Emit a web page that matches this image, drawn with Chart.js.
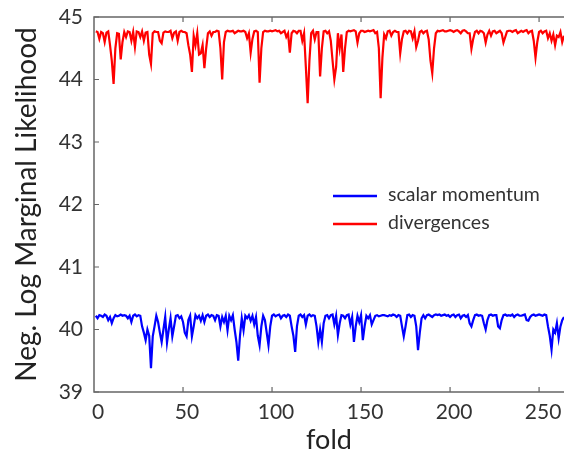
<!DOCTYPE html>
<html>
<head>
<meta charset="utf-8">
<script src="https://cdn.jsdelivr.net/npm/chart.js@4/dist/chart.umd.min.js"></script>
<style>
  html, body { margin: 0; padding: 0; background: #fff; overflow: hidden; }
</style>
</head>
<body>
<canvas id="foldChart" width="564" height="456"></canvas>
<script>
// values, fold 1..264
var divergences = [
  44.77, 44.76, 44.65, 44.76, 44.74, 44.60, 44.75, 44.77, 44.55, 44.30,
  43.93, 44.50, 44.74, 44.73, 44.32, 44.60, 44.76, 44.68, 44.77, 44.76,
  44.62, 44.76, 44.52, 44.77, 44.76, 44.68, 44.77, 44.62, 44.75, 44.76,
  44.40, 44.25, 44.74, 44.77, 44.76, 44.76, 44.62, 44.58, 44.75, 44.77,
  44.76, 44.76, 44.78, 44.66, 44.75, 44.77, 44.62, 44.76, 44.78, 44.76,
  44.76, 44.74, 44.55, 44.40, 44.12, 44.70, 44.55, 44.74, 44.40, 44.42,
  44.55, 44.18, 44.50, 44.74, 44.77, 44.70, 44.76, 44.76, 44.78, 44.77,
  44.50, 44.00, 44.60, 44.76, 44.78, 44.77, 44.77, 44.78, 44.74, 44.76,
  44.78, 44.77, 44.77, 44.78, 44.76, 44.66, 44.74, 44.43, 44.65, 44.77,
  44.78, 44.76, 43.95, 44.50, 44.76, 44.78, 44.77, 44.77, 44.78, 44.77,
  44.78, 44.79, 44.77, 44.78, 44.74, 44.76, 44.78, 44.68, 44.74, 44.43,
  44.74, 44.78, 44.77, 44.74, 44.78, 44.78, 44.62, 44.74, 44.20, 43.62,
  44.30, 44.74, 44.78, 44.64, 44.76, 44.76, 44.05, 44.50, 44.77, 44.78,
  44.74, 44.77, 44.62, 44.30, 44.00, 44.20, 44.74, 44.50, 44.72, 44.12,
  44.50, 44.76, 44.78, 44.77, 44.78, 44.79, 44.77, 44.59, 44.74, 44.78,
  44.78, 44.76, 44.77, 44.78, 44.77, 44.78, 44.79, 44.74, 44.76, 44.50,
  43.70, 44.35, 44.72, 44.66, 44.77, 44.78, 44.70, 44.76, 44.78, 44.76,
  44.76, 44.42, 44.65, 44.77, 44.78, 44.74, 44.78, 44.77, 44.66, 44.77,
  44.52, 44.62, 44.76, 44.78, 44.74, 44.77, 44.78, 44.64, 44.30, 44.10,
  44.50, 44.74, 44.78, 44.77, 44.78, 44.79, 44.77, 44.77, 44.78, 44.79,
  44.78, 44.76, 44.78, 44.79, 44.77, 44.74, 44.78, 44.79, 44.77, 44.74,
  44.74, 44.49, 44.65, 44.76, 44.78, 44.74, 44.78, 44.77, 44.74, 44.59,
  44.72, 44.78, 44.70, 44.77, 44.78, 44.74, 44.76, 44.78, 44.74, 44.59,
  44.68, 44.77, 44.78, 44.78, 44.76, 44.78, 44.79, 44.74, 44.76, 44.78,
  44.76, 44.78, 44.79, 44.74, 44.77, 44.78, 44.62, 44.35, 44.60, 44.76,
  44.78, 44.74, 44.77, 44.78, 44.66, 44.74, 44.62, 44.72, 44.55, 44.70,
  44.68, 44.76, 44.60, 44.70
];

var scalarMomentum = [
  40.22, 40.18, 40.23, 40.22, 40.20, 40.24, 40.22, 40.15, 40.20, 40.10,
  40.18, 40.23, 40.21, 40.22, 40.24, 40.22, 40.23, 40.22, 40.18, 40.22,
  40.12, 40.22, 40.24, 40.21, 40.23, 40.22, 40.05, 39.95, 39.83, 40.00,
  39.90, 39.38, 39.89, 40.05, 40.22, 40.12, 39.95, 39.80, 40.00, 40.20,
  39.79, 40.00, 40.18, 39.89, 40.05, 40.22, 40.23, 40.18, 40.21, 40.12,
  39.95, 39.89, 40.15, 40.22, 39.89, 40.05, 40.23, 40.18, 40.22, 40.14,
  40.23, 40.12, 40.22, 40.24, 40.20, 40.23, 40.22, 40.15, 40.23, 40.22,
  40.05, 40.20, 40.12, 40.22, 39.99, 40.22, 40.15, 40.23, 40.00, 39.80,
  39.50, 39.90, 40.18, 39.99, 40.22, 40.18, 40.23, 40.14, 40.22, 40.08,
  40.20, 39.90, 39.75, 40.05, 40.22, 40.15, 39.95, 39.75, 40.05, 40.22,
  40.24, 40.21, 40.23, 40.24, 40.18, 40.22, 40.23, 40.20, 40.24, 40.22,
  40.05, 39.90, 39.64, 40.05, 40.22, 40.24, 40.20, 40.23, 40.08, 40.22,
  40.24, 40.21, 40.23, 40.22, 40.05, 39.80, 40.00, 39.80, 40.10, 40.22,
  40.23, 40.18, 40.23, 40.24, 40.08, 40.22, 39.91, 40.10, 40.23, 40.22,
  40.18, 40.23, 40.24, 40.08, 40.20, 39.80, 40.05, 40.22, 40.12, 40.23,
  39.83, 40.05, 40.22, 40.18, 40.23, 40.08, 40.15, 40.22, 40.23, 40.21,
  40.22, 40.23, 40.23, 40.22, 40.21, 40.23, 40.22, 40.24, 40.23, 40.20,
  40.23, 40.22, 40.05, 39.89, 40.05, 40.23, 40.24, 40.20, 40.23, 40.22,
  40.05, 39.67, 39.95, 40.18, 40.23, 40.18, 40.23, 40.24, 40.22, 40.20,
  40.23, 40.24, 40.23, 40.24, 40.22, 40.23, 40.24, 40.22, 40.23, 40.20,
  40.23, 40.24, 40.20, 40.23, 40.24, 40.18, 40.22, 40.23, 40.20, 40.23,
  40.10, 40.05, 40.15, 40.23, 40.24, 40.22, 40.23, 40.22, 40.10, 40.00,
  40.15, 40.23, 40.24, 40.22, 40.23, 40.23, 40.05, 40.02, 40.15, 40.23,
  40.24, 40.22, 40.23, 40.22, 40.24, 40.20, 40.23, 40.24, 40.22, 40.22,
  40.23, 40.24, 40.15, 40.14, 40.20, 40.23, 40.24, 40.22, 40.23, 40.24,
  40.23, 40.22, 40.24, 40.23, 40.05, 39.90, 39.68, 40.00, 39.95, 40.10,
  39.86, 40.05, 40.15, 40.20
];

var folds = divergences.map(function(v, i) { return i + 1; });
var xTicks = [0, 50, 100, 150, 200, 250];
var yTicks = [39, 40, 41, 42, 43, 44, 45];

var textColor = '#333333';
var frameColor = '#666666';
var fontFamily = 'Lato, "Open Sans", sans-serif';

function toPoints(values) {
    return values.map(function(v, i) { return { x: folds[i], y: v }; });
}

// box on left/top/bottom with inward tick marks, like the original plot
var framePlugin = {
    id: 'frame',
    afterDatasetsDraw: function(chart) {
        var ctx = chart.ctx;
        var a = chart.chartArea;
        var xs = chart.scales.x, ys = chart.scales.y;
        ctx.save();
        ctx.strokeStyle = frameColor;
        ctx.lineWidth = 1.5;
        ctx.beginPath();
        ctx.moveTo(a.right + 2, a.top);
        ctx.lineTo(a.left, a.top);
        ctx.lineTo(a.left, a.bottom);
        ctx.lineTo(a.right + 2, a.bottom);
        ctx.stroke();
        ctx.lineWidth = 1.2;
        ctx.beginPath();
        xTicks.forEach(function(t) {
            if (t === 0) return;
            var px = xs.getPixelForValue(t);
            ctx.moveTo(px, a.bottom); ctx.lineTo(px, a.bottom - 5);
            ctx.moveTo(px, a.top); ctx.lineTo(px, a.top + 5);
        });
        yTicks.forEach(function(t) {
            var py = ys.getPixelForValue(t);
            ctx.moveTo(a.left, py); ctx.lineTo(a.left + 5, py);
        });
        ctx.stroke();
        ctx.restore();
    }
};

// legend drawn inside the plot area
var innerLegend = {
    id: 'innerLegend',
    afterDraw: function(chart) {
        var ctx = chart.ctx;
        var order = [0, 1];
        ctx.save();
        ctx.font = '19.5px ' + fontFamily;
        ctx.textBaseline = 'middle';
        order.forEach(function(di, k) {
            var ds = chart.data.datasets[di];
            var y = 196 + k * 28;
            ctx.strokeStyle = ds.borderColor;
            ctx.lineWidth = 2.5;
            ctx.beginPath();
            ctx.moveTo(333, y); ctx.lineTo(377, y);
            ctx.stroke();
            ctx.fillStyle = textColor;
            ctx.fillText(ds.label, 388, y - 1);
        });
        ctx.restore();
    }
};

new Chart(document.getElementById('foldChart').getContext('2d'), {
    type: 'line',
    data: {
        datasets: [{
            label: 'scalar momentum',
            data: toPoints(scalarMomentum),
            borderColor: '#0000ff',
            borderWidth: 2.2,
            pointRadius: 0,
            tension: 0
        }, {
            label: 'divergences',
            data: toPoints(divergences),
            borderColor: '#ff0000',
            borderWidth: 2.2,
            pointRadius: 0,
            tension: 0
        }]
    },
    options: {
        responsive: false,
        animation: false,
        layout: { padding: { top: 17, right: 0, left: 0, bottom: 0 } },
        plugins: {
            legend: { display: false },
            tooltip: { enabled: false }
        },
        scales: {
            x: {
                type: 'linear',
                min: 0,
                max: 264,
                afterFit: function(s) { s.height = 64; s.paddingLeft = 0; s.paddingRight = 0; },
                afterBuildTicks: function(s) {
                    s.ticks = xTicks.map(function(v) { return { value: v }; });
                },
                grid: { display: false, drawTicks: false },
                border: { display: false },
                ticks: {
                    color: textColor,
                    font: { family: fontFamily, size: 21 },
                    padding: 8,
                    labelOffset: 4,
                    maxRotation: 0
                },
                title: {
                    display: true,
                    text: 'fold',
                    color: '#222222',
                    font: { family: fontFamily, size: 27 },
                    padding: { top: 0, bottom: 0 }
                }
            },
            y: {
                min: 39,
                max: 45,
                afterFit: function(s) { s.width = 94; s.paddingTop = 0; s.paddingBottom = 0; },
                afterBuildTicks: function(s) {
                    s.ticks = yTicks.map(function(v) { return { value: v }; });
                },
                grid: { display: false, drawTicks: false },
                border: { display: false },
                ticks: {
                    color: textColor,
                    font: { family: fontFamily, size: 21 },
                    padding: 11
                },
                title: {
                    display: true,
                    text: 'Neg. Log Marginal Likelihood',
                    color: '#222222',
                    font: { family: fontFamily, size: 28 },
                    padding: { top: 10, bottom: 0 }
                }
            }
        }
    },
    plugins: [framePlugin, innerLegend]
});
</script>
</body>
</html>
